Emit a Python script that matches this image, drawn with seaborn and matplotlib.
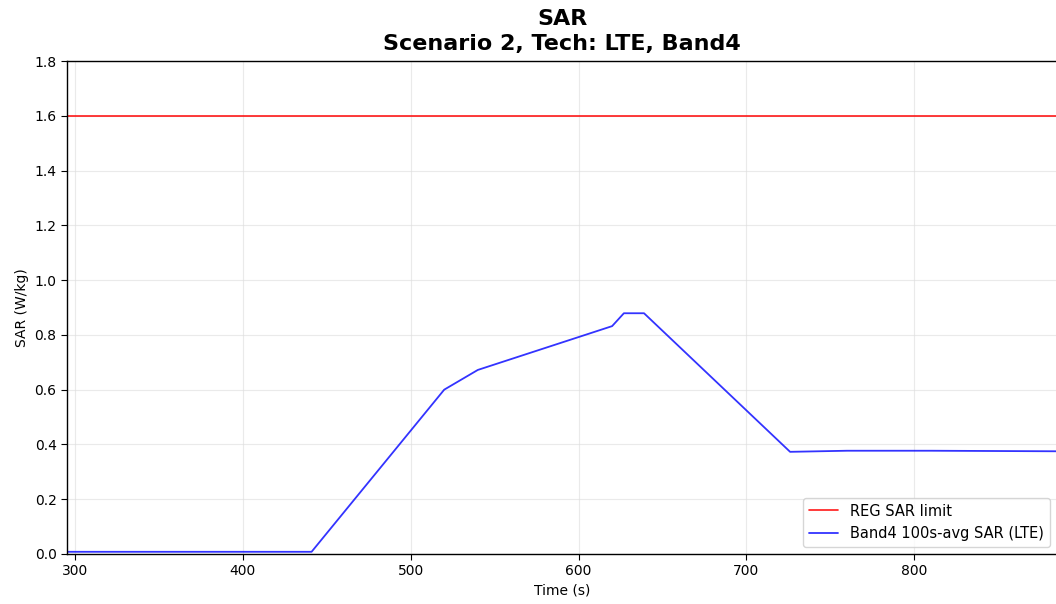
import matplotlib
matplotlib.use("Agg")
import matplotlib.pyplot as plt
import seaborn as sns
import pandas as pd

time_s = [295, 441, 520, 540, 620, 627, 639, 726, 760, 810, 885]
sar_avg = [0.008, 0.008, 0.600, 0.672, 0.832, 0.879, 0.879, 0.373, 0.377, 0.377, 0.375]
reg_limit = 1.6

sns.set_style("white")
plt.rcParams['font.family'] = ['DejaVu Sans']
plt.rcParams['text.color'] = 'black'
plt.rcParams['axes.labelcolor'] = 'black'
plt.rcParams['xtick.color'] = 'black'
plt.rcParams['ytick.color'] = 'black'

fig = plt.figure(figsize=(10.56, 6.04), dpi=100)
ax = fig.add_axes([0.0634, 0.0828, 0.9376, 0.8162])

df = pd.DataFrame({"Time (s)": time_s, "SAR": sar_avg})
ax.axhline(reg_limit, color="red", lw=1.2, alpha=0.9, label="REG SAR limit")
sns.lineplot(data=df, x="Time (s)", y="SAR", ax=ax, color="blue", alpha=0.8, lw=1.3,
             label="Band4 100s-avg SAR (LTE)")

ax.set_xlim(295.3, 885)
ax.set_ylim(0, 1.8)
ax.set_xticks([300, 400, 500, 600, 700, 800])
ax.set_yticks([0.0, 0.2, 0.4, 0.6, 0.8, 1.0, 1.2, 1.4, 1.6, 1.8])
ax.set_xlabel("Time (s)", fontsize=10)
ax.set_ylabel("SAR (W/kg)", fontsize=10)
ax.set_title("SAR\nScenario 2, Tech: LTE, Band4", fontsize=16, fontweight="bold",
             color="black", pad=8, linespacing=1.28)
ax.grid(True, color="#dddddd", alpha=0.6, lw=0.8)
ax.tick_params(axis="both", labelsize=10, length=4, direction="out", bottom=True, left=True)
for s in ["left", "bottom", "top"]:
    ax.spines[s].set_color("black")
    ax.spines[s].set_linewidth(1.0)
ax.spines["right"].set_visible(False)
ax.legend(loc="lower right", fontsize=10.5, frameon=True)

fig.savefig("out.png", dpi=100)
